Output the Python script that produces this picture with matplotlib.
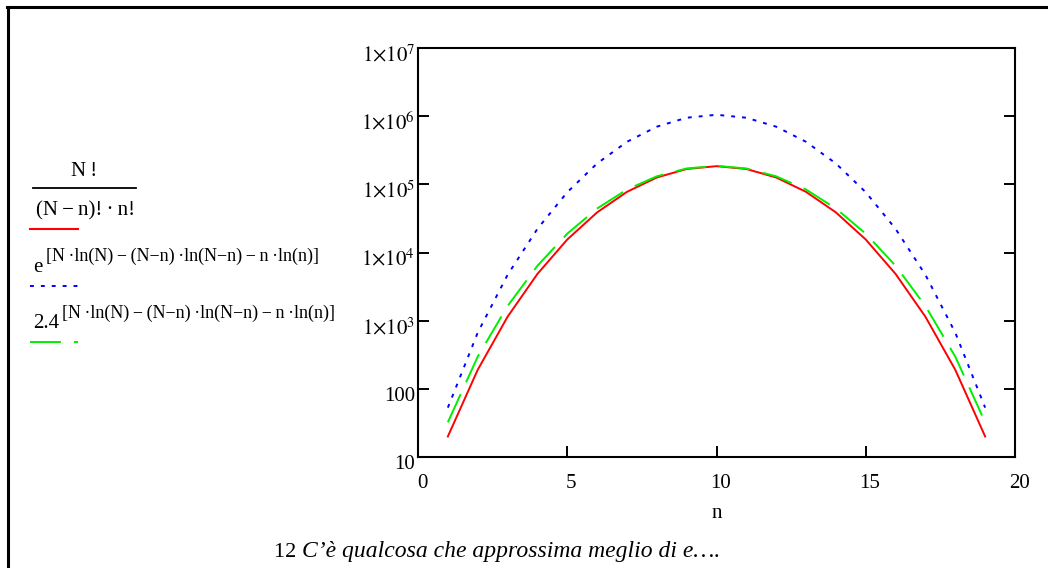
import math
import matplotlib
matplotlib.use("Agg")
import matplotlib.pyplot as plt
import matplotlib.transforms as mtransforms
from matplotlib.lines import Line2D
from matplotlib.ticker import FixedLocator, FuncFormatter, NullLocator

plt.rcParams["font.family"] = ["Liberation Serif", "DejaVu Serif"]
plt.rcParams["mathtext.fontset"] = "stix"

# Data (N = 20)
n = list(range(1, 20))
binom = [20, 190, 1140, 4845, 15504, 38760, 77520, 125970, 167960, 184756,
         167960, 125970, 77520, 38760, 15504, 4845, 1140, 190, 20]
approx_e = [53.0, 666, 4696, 22205, 76627, 202260, 420400, 701000, 948580, 1048576,
            948580, 701000, 420400, 202260, 76627, 22205, 4696, 666, 53.0]
approx_24 = [32.3, 296, 1637, 6381, 18880, 44170, 83820, 131130, 170900, 186560,
             170900, 131130, 83820, 44170, 18880, 6381, 1637, 296, 32.3]

x_ticks = [0, 5, 10, 15, 20]
y_ticks = [10, 100, 1e3, 1e4, 1e5, 1e6, 1e7]

RED, BLUE, GREEN = "#ff0000", "#0000ff", "#00ee00"
BLUE_DASH = (2.0, 3.6)
GREEN_DASH = (15.9, 6.7)

W, H = 1048, 568
fig = plt.figure(figsize=(W / 100, H / 100), dpi=100)
ax = fig.add_axes([418 / W, 1 - 457 / H, (1015 - 418) / W, (457 - 48) / H])

ax.plot(n, binom, color=RED, lw=1.4)
ax.plot(n, approx_e, color=BLUE, lw=1.4, dashes=BLUE_DASH)
ax.plot(n, approx_24, color=GREEN, lw=1.4, dashes=GREEN_DASH)

ax.set_yscale("log")
ax.set_xlim(0, 20)
ax.set_ylim(10, 1e7)
ax.xaxis.set_major_locator(FixedLocator(x_ticks))
ax.yaxis.set_major_locator(FixedLocator(y_ticks))
ax.yaxis.set_minor_locator(NullLocator())


def ylab(v, pos):
    if v < 1000:
        return "%d" % v
    e = int(round(math.log10(v)))
    return r"$1{\times}10^{%d}$" % e


ax.yaxis.set_major_formatter(FuncFormatter(ylab))
ax.tick_params(direction="in", length=8, width=1.4, labelsize=15, right=True, top=False)
ax.tick_params(axis="x", pad=12)
ax.tick_params(axis="y", pad=2)
for s in ax.spines.values():
    s.set_linewidth(1.5)

# Mathcad puts the y labels a bit below their ticks
shift = mtransforms.ScaledTranslation(0, -5 / 100, fig.dpi_scale_trans)
for lab in ax.get_yticklabels():
    lab.set_transform(lab.get_transform() + shift)
shift_x = mtransforms.ScaledTranslation(4 / 100, 0, fig.dpi_scale_trans)
for lab in ax.get_xticklabels():
    lab.set_transform(lab.get_transform() + shift_x)

ax.set_xlabel("n", fontsize=15, labelpad=8)


# legend drawn as text, pixel coords from top-left
def ftext(x, y, s, **kw):
    return fig.text(x / W, 1 - y / H, s, **kw)


def fline(x0, x1, y, **kw):
    fig.add_artist(Line2D([x0 / W, x1 / W], [1 - y / H, 1 - y / H], **kw))


t = "\u2009"
ftext(84, 172, "N" + t + "!", fontsize=15, ha="center", va="center")
fline(33, 136, 188, color="black", lw=1.3)
ftext(36, 211, "(N" + t + "\u2212" + t + "n)!" + t + "\u00b7" + t + "n!",
      fontsize=15, ha="left", va="center")
fline(30, 78, 229, color=RED, lw=1.5)

expo = ("[N" + t + "\u00b7ln(N)" + t + "\u2212" + t + "(N\u2212n)" + t + "\u00b7ln(N\u2212n)"
        + t + "\u2212" + t + "n" + t + "\u00b7ln(n)]")
ftext(33, 267, "e", fontsize=15, ha="left", va="center")
ftext(46, 256, expo, fontsize=13, ha="left", va="center")
fline(30, 78, 286, color=BLUE, lw=1.4, dashes=BLUE_DASH)

ftext(33, 323, "2.4", fontsize=15, ha="left", va="center")
ftext(62, 313, expo, fontsize=13, ha="left", va="center")
fline(30, 78, 342, color=GREEN, lw=1.4, dashes=GREEN_DASH)

# caption
num = fig.text(274 / W, 1 - 557 / H, "12 ", fontsize=16, ha="left", va="baseline")
fig.canvas.draw()
bb = num.get_window_extent()
fig.text(bb.x1 / W, 1 - 557 / H, "C\u2019\u00e8 qualcosa che approssima meglio di e\u2026.",
         fontsize=17, style="italic", ha="left", va="baseline")

# outer frame (top and left)
fig.add_artist(Line2D([7 / W, 1.0], [1 - 7 / H, 1 - 7 / H], color="black", lw=2.2))
fig.add_artist(Line2D([7.5 / W, 7.5 / W], [0, 1 - 7 / H], color="black", lw=2.2))

fig.savefig("out.png", dpi=100)
